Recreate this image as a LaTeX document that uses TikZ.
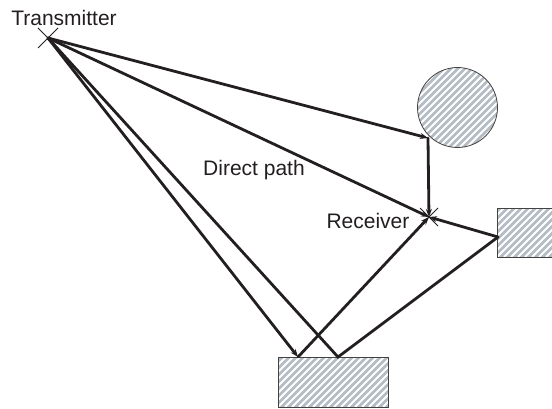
\documentclass[tikz,border=0pt]{standalone}
\usepackage{fontspec}
\setmainfont{Liberation Sans}
\usetikzlibrary{arrows.meta,positioning}
\definecolor{ink}{RGB}{35,31,32}
\definecolor{hatch}{RGB}{180,188,196}
\tikzset{
  >={Stealth[length=8pt,width=6pt]},
  ray/.style={draw=ink,line width=2.8pt,line cap=round},
  cross/.style={draw=ink,line width=0.8pt},
  lbl/.style={font=\fontsize{21}{25}\selectfont,text=ink,inner sep=0pt},
  obstacle/.style={draw=ink!85,line width=0.8pt,fill=hatch,inner sep=0pt,
    path picture={
      \foreach \k in {-140,-133,...,140}
        \draw[white,line width=1.9pt] ([xshift=\k pt]path picture bounding box.south west) -- ++(140,-140);
    }},
}
\begin{document}
\begin{tikzpicture}[x=1pt,y=-1pt]
    \useasboundingbox (0,0) rectangle (552,409);
    \clip (0,0) rectangle (552,409);
    % obstacles
    \node[obstacle,circle,minimum size=80pt] (ball) at (457.5,107.5) {};
    \node[obstacle,minimum width=110pt,minimum height=50pt] (ground) at (333,382) {};
    \node[obstacle,minimum width=84pt,minimum height=49pt] (wall) at (539,232.5) {};
    % antennas
    \coordinate (tx) at (48,38);
    \coordinate (rx) at (429,217);
    \draw[cross] (tx) +(-10,-10) -- +(10,10) +(-10,10) -- +(10,-10);
    \draw[cross] (rx) +(-9,-9) -- +(9,9) +(-9,9) -- +(9,-9);
    % reflection points
    \coordinate (hitball) at (428,138);
    \coordinate (hitground) at (298,357);
    \coordinate (bounce) at (338,357);
    \coordinate (hitwall) at (498,237);
    % rays
    \draw[ray,->] (tx) -- (hitball);
    \draw[ray,->] (hitball) -- (rx);
    \draw[ray,->] (tx) -- (rx);
    \draw[ray,->] (tx) -- (hitground);
    \draw[ray,->] (hitground) -- (rx);
    \draw[ray,line join=miter] (tx) -- (bounce) -- (hitwall);
    \draw[ray,->] (hitwall) -- (rx);
    % labels
    \node[lbl] (txlabel) at (64,18) {Transmitter};
    \node[lbl] (direct) at (254,170) {Direct path};
    \node[lbl] (rxlabel) at (368,221) {Receiver};
  \end{tikzpicture}
\end{document}
